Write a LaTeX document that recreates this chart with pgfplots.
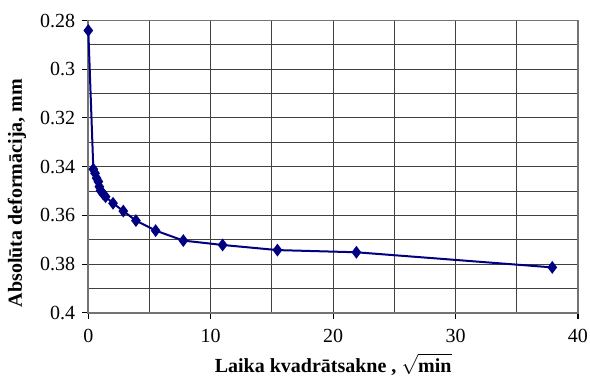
\documentclass[border=0pt]{standalone}
\usepackage{fontspec}
\setmainfont{Liberation Serif}
\usepackage{pgfplots}
\pgfplotsset{compat=1.18}

\definecolor{navy}{RGB}{0,0,128}

\begin{document}
\fontsize{10}{12}\selectfont
\begin{tikzpicture}
\useasboundingbox (-44.15pt,-32pt) rectangle (250.8pt,156.45pt);
\begin{axis}[
    at={(0,0)}, anchor=south west,
    scale only axis,
    width=244.8pt, height=146.2pt,
    xmin=0, xmax=40,
    ymin=0.28, ymax=0.4,
    y dir=reverse,
    xtick={0,10,20,30,40},
    minor xtick={5,15,25,35},
    ytick={0.28,0.3,0.32,0.34,0.36,0.38,0.4},
    minor ytick={0.29,0.31,0.33,0.35,0.37,0.39},
    grid=both,
    major grid style={black!75, line width=0.5pt},
    minor grid style={black!75, line width=0.5pt},
    axis line style={black!55, line width=0.9pt},
    tick style={black, line width=0.5pt},
    tick align=outside,
    major tick length=3pt,
    minor tick length=0pt,
    xtick pos=bottom, ytick pos=left,
    /pgf/number format/fixed,
    /pgf/number format/assume math mode=true,
    tick label style={font=\fontsize{10}{12}\selectfont},
    xticklabel style={yshift=-1.5pt},
    xlabel={\textbf{Laika kvadrātsakne ,} \(\sqrt{\textbf{min}}\)},
    ylabel={\textbf{Absolūta deformācija, mm}},
    xlabel style={at={(axis description cs:0.5,-0.176)}, anchor=center},
    ylabel style={at={(axis description cs:-0.1456,0.41)}, anchor=center, rotate=0},
    clip=false,
]
\addplot[color=navy, line width=1pt, mark=diamond*, mark size=2.4pt] coordinates {
    (0, 0.2841)
    (0.41, 0.3410)
    (0.55, 0.3427)
    (0.68, 0.3447)
    (0.82, 0.3461)
    (0.90, 0.3482)
    (1.00, 0.3498)
    (1.22, 0.3512)
    (1.41, 0.3523)
    (2.02, 0.3550)
    (2.86, 0.3582)
    (3.89, 0.3621)
    (5.50, 0.3662)
    (7.76, 0.3703)
    (10.97, 0.3721)
    (15.45, 0.3742)
    (21.9, 0.3751)
    (37.9, 0.3813)
};
\end{axis}
\end{tikzpicture}
\end{document}
